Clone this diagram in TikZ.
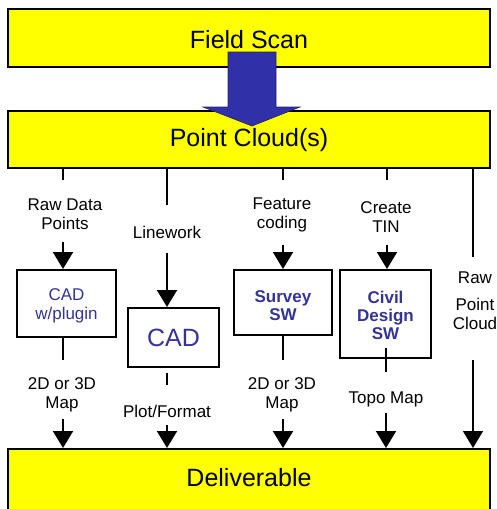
\documentclass[tikz,border=0pt]{standalone}
\usepackage{fontspec}
\setmainfont{Liberation Sans}
\usetikzlibrary{arrows.meta}
\definecolor{boxyellow}{RGB}{255,255,0}
\definecolor{txtblue}{RGB}{51,51,153}
\definecolor{arrowblue}{RGB}{48,48,168}
\tikzset{
  bigbox/.style={draw=black,line width=2pt,fill=boxyellow,minimum width=482pt,inner sep=0pt,font=\fontsize{25}{30}\selectfont},
  swbox/.style={draw=black,line width=2pt,fill=white,inner sep=0pt,align=center,text=txtblue,font=\fontsize{17}{18}\selectfont},
  lbl/.style={align=center,inner sep=0pt,font=\fontsize{17}{19}\selectfont},
  ln/.style={line width=2pt},
  arr/.style={line width=2pt,-{Triangle[length=17pt,width=20pt]}},
}
\begin{document}
\begin{tikzpicture}[x=1pt,y=-1pt]
\clip (0,0) rectangle (497,509);
\fill[white] (0,0) rectangle (497,509);
% main boxes
\node[bigbox,minimum height=58pt] (fs) at (249,38) {};
\node[font=\fontsize{25}{30}\selectfont] (fst) at (249,40) {Field Scan};
\node[bigbox,minimum height=57pt] (pc) at (249,139.5) {};
\node[font=\fontsize{25}{30}\selectfont] (pct) at (249,140) {Point Cloud(s)};
\node[bigbox,minimum height=90pt] (del) at (249,494) {};
\node[font=\fontsize{25}{30}\selectfont] (delt) at (249,478) {Deliverable};
% block arrow
\fill[arrowblue,draw=arrowblue!70!black,line width=0.6pt]
  (228,52) -- (276,52) -- (276,107) -- (300,107) -- (252,126) -- (203,107) -- (228,107) -- cycle;
% software boxes
\node[swbox,minimum width=99pt,minimum height=67pt] (b1) at (66.5,303.5) {};
\node[text=txtblue,lbl] (b1t) at (66.5,306) {CAD\\w/plugin};
\node[swbox,minimum width=91pt,minimum height=59pt] (b2) at (173.5,337.5) {};
\node[text=txtblue,font=\fontsize{25}{30}\selectfont] (b2t) at (173.5,338) {CAD};
\node[swbox,minimum width=98pt,minimum height=65pt] (b3) at (283,302.5) {};
\node[text=txtblue,lbl,font=\bfseries\fontsize{17}{18}\selectfont] (b3t) at (283,306) {Survey\\SW};
\node[swbox,minimum width=91pt,minimum height=88pt] (b4) at (385.5,314) {};
\node[text=txtblue,lbl,font=\bfseries\fontsize{17}{18}\selectfont] (b4t) at (385.5,315) {Civil\\Design\\SW};
% labels
\node[lbl] (l1) at (65,214) {Raw Data\\Points};
\node[lbl] (l2) at (167,232) {Linework};
\node[lbl] (l3) at (282,215) {Feature\\coding};
\node[lbl] (l4) at (386,217) {Create\\TIN};
\node[lbl,anchor=north] (l5) at (475,272) {Raw\\[8pt]Point\\Cloud};
\node[lbl] (m1) at (62,395) {2D or 3D\\Map};
\node[lbl] (m2) at (167,411) {Plot/Format};
\node[lbl] (m3) at (282,395) {2D or 3D\\Map};
\node[lbl] (m4) at (386,399) {Topo Map};
% coordinates
\coordinate (p1) at (63,168);  \coordinate (q1) at (63,180);  \coordinate (r1) at (63,242);
\coordinate (p2) at (167,168); \coordinate (q2) at (167,205); \coordinate (r2) at (167,253);
\coordinate (p3) at (283,168); \coordinate (q3) at (283,180); \coordinate (r3) at (283,245);
\coordinate (p4) at (387,168); \coordinate (q4) at (387,180); \coordinate (r4) at (387,245);
\coordinate (p5) at (473,168); \coordinate (q5) at (473,257);
\coordinate (s1) at (63,337);  \coordinate (t1) at (63,360);  \coordinate (u1) at (63,419);
\coordinate (s2) at (167,373); \coordinate (t2) at (167,385); \coordinate (u2) at (167,425);
\coordinate (s3) at (283,335); \coordinate (t3) at (283,360); \coordinate (u3) at (283,419);
\coordinate (s4) at (386,348); \coordinate (t4) at (386,372); \coordinate (u4) at (386,413);
\coordinate (s5) at (473,360);
% connectors top
\draw[ln] (p1) -- (q1); \draw[arr] (r1) -- (b1.north -| r1);
\draw[ln] (p2) -- (q2); \draw[arr] (r2) -- (b2.north -| r2);
\draw[ln] (p3) -- (q3); \draw[arr] (r3) -- (b3.north -| r3);
\draw[ln] (p4) -- (q4); \draw[arr] (r4) -- (b4.north -| r4);
\draw[line width=1.5pt] (p5) -- (q5);
% connectors bottom
\draw[ln] (s1) -- (t1); \draw[arr] (u1) -- (del.north -| u1);
\draw[ln] (s2) -- (t2); \draw[arr] (u2) -- (del.north -| u2);
\draw[ln] (s3) -- (t3); \draw[arr] (u3) -- (del.north -| u3);
\draw[ln] (s4) -- (t4); \draw[arr] (u4) -- (del.north -| u4);
\draw[line width=1.5pt,-{Triangle[length=17pt,width=20pt]}] (s5) -- (del.north -| s5);
\end{tikzpicture}
\end{document}
